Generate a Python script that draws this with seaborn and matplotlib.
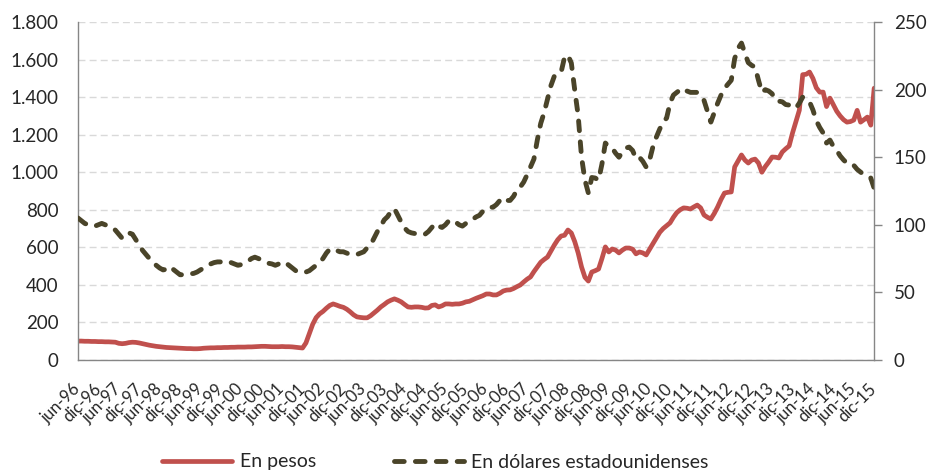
import numpy as np
import pandas as pd
import matplotlib
matplotlib.use('Agg')
import matplotlib.pyplot as plt
import matplotlib.ticker as mticker
import seaborn as sns

# datos mensuales, jun-96 a dic-15
en_pesos = [
    # 1996 jun-dic
    100, 100, 99, 99, 98, 98, 97,
    # 1997
    97, 96, 96, 95, 94, 88, 86, 88, 92, 94, 93, 90,
    # 1998
    86, 82, 78, 75, 72, 70, 68, 66, 65, 64, 63, 62,
    # 1999
    61, 60, 60, 59, 59, 60, 62, 63, 64, 64, 65, 65,
    # 2000
    66, 66, 67, 67, 68, 68, 68, 69, 69, 70, 71, 72,
    # 2001
    72, 71, 70, 70, 70, 71, 70, 70, 69, 67, 65, 63,
    # 2002
    90, 140, 190, 225, 245, 258, 275, 290, 298, 292, 285, 280,
    # 2003
    270, 256, 240, 229, 226, 224, 224, 235, 250, 265, 282, 295,
    # 2004
    309, 318, 325, 318, 309, 295, 282, 280, 282, 282, 280, 276,
    # 2005
    277, 290, 293, 282, 288, 298, 298, 296, 298, 298, 302, 309,
    # 2006
    312, 320, 328, 335, 342, 351, 351, 346, 346, 355, 367, 372,
    # 2007
    373, 380, 390, 399, 415, 430, 442, 470, 495, 520, 535, 548,
    # 2008
    580, 612, 640, 660, 664, 692, 676, 630, 570, 495, 440, 420,
    # 2009
    468, 475, 484, 540, 602, 575, 591, 585, 570, 585, 596, 596,
    # 2010
    590, 565, 575, 570, 559, 590, 620, 650, 680, 700, 715, 730,
    # 2011
    760, 785, 800, 810, 808, 804, 815, 825, 810, 772, 760, 751,
    # 2012
    780, 815, 855, 889, 893, 895, 1028, 1060, 1092, 1065, 1049, 1065,
    # 2013
    1070, 1049, 1000, 1030, 1054, 1081, 1080, 1076, 1108, 1125, 1140, 1209,
    # 2014
    1270, 1330, 1520, 1522, 1534, 1500, 1450, 1427, 1427, 1350, 1395, 1360,
    # 2015
    1325, 1300, 1280, 1267, 1270, 1278, 1330, 1267, 1280, 1294, 1251, 1448,
]

en_dolares = [
    # 1996 jun-dic
    105, 103, 101, 100, 99, 99, 100,
    # 1997
    101, 100, 99, 98, 96, 93, 90, 91, 94, 93, 89, 85,
    # 1998
    81, 78, 75, 73, 70, 68, 66.6, 67, 69, 67, 65, 63,
    # 1999
    63, 63, 63.6, 64, 65, 66.6, 68, 69.5, 71, 72, 72.5, 72.5,
    # 2000
    73, 73, 72, 71, 70, 70.5, 71.7, 73, 75, 76, 75, 74,
    # 2001
    72.5, 71.5, 71, 70, 71, 72.5, 72, 70, 68, 66, 65, 64.5,
    # 2002
    65, 66, 68, 70, 72, 75, 79, 82, 82, 81, 80, 80,
    # 2003
    79, 78, 78, 78, 79, 80, 83, 85, 90, 95, 99, 103.6,
    # 2004
    106, 110, 112, 107, 102, 97.6, 95, 94, 93.5, 93, 92.5, 93,
    # 2005
    95, 98, 101, 99, 98, 100, 103, 103.6, 102, 100, 99, 101,
    # 2006
    103, 104, 105.8, 107, 110, 112, 113, 113, 115, 118, 120, 118,
    # 2007
    118, 121, 125.7, 128, 131.6, 137, 142.7, 148.6, 162.7, 175, 183, 193,
    # 2008
    203, 210, 211, 213, 224, 225.6, 219.7, 199.7, 181, 150, 133, 123.5,
    # 2009
    135, 134.6, 133, 145, 160.5, 158, 156.8, 153, 150, 154, 156.8, 157.5,
    # 2010
    155, 149, 150, 147, 142.7, 148, 158, 165, 171, 176, 179, 190,
    # 2011
    196, 198, 200, 201, 199, 198, 198, 198, 195, 192, 184, 176,
    # 2012
    183, 190, 196, 201, 204, 207, 223, 230.6, 234.5, 227, 220, 218,
    # 2013
    216.7, 207, 198, 200, 199, 197, 192, 191.5, 191, 189, 188.6, 187,
    # 2014
    186.4, 190, 194.5, 192, 191, 185, 177, 172, 168, 160.5, 162.7, 158,
    # 2015
    155, 151, 148, 145.6, 145.6, 144, 141, 139, 137, 135.5, 134.6, 127,
]

meses_es = ['ene', 'feb', 'mar', 'abr', 'may', 'jun',
            'jul', 'ago', 'sep', 'oct', 'nov', 'dic']

fechas = pd.date_range('1996-06-01', periods=len(en_pesos), freq='MS')
df = pd.DataFrame({
    'mes': np.arange(len(fechas)),
    'En pesos': en_pesos,
    'En dólares estadounidenses': en_dolares,
})
etiquetas = [f"{meses_es[f.month - 1]}-{f.strftime('%y')}" for f in fechas]

rojo = '#C0504D'
oliva = '#4A4429'
gris = '#868686'

sns.set_style('white')
plt.rcParams['font.family'] = ['Lato', 'DejaVu Sans']

fig, ax = plt.subplots(figsize=(9.28, 4.71), dpi=100)
fig.subplots_adjust(left=0.084, right=0.942, top=0.953, bottom=0.236)
ax2 = ax.twinx()

sns.lineplot(data=df, x='mes', y='En pesos', ax=ax, color=rojo,
             linewidth=3.4, label='En pesos', legend=False)
sns.lineplot(data=df, x='mes', y='En dólares estadounidenses', ax=ax2,
             color=oliva, linewidth=3.5, linestyle=(0, (2.0, 2.3)),
             label='En dólares estadounidenses', legend=False)
for ln in ax2.get_lines():
    ln.set_dash_capstyle('round')
for ln in ax.get_lines():
    ln.set_solid_capstyle('round')

ax.set_xlim(0, len(fechas) - 1)
ax.set_ylim(0, 1800)
ax2.set_ylim(0, 250)
ax.set_yticks(np.arange(0, 1801, 200))
ax2.set_yticks(np.arange(0, 251, 50))
ax.yaxis.set_major_formatter(
    mticker.FuncFormatter(lambda v, p: f"{int(v):,}".replace(',', '.')))

ax.set_xticks(df['mes'][::6])
ax.set_xticklabels(etiquetas[::6], rotation=45, ha='right', va='center',
                   rotation_mode='anchor', fontsize=12)
ax.tick_params(axis='x', length=0, pad=19)
ax.tick_params(axis='y', length=0, pad=14, labelsize=13.5)
ax2.tick_params(axis='y', length=6, width=1, color=gris, pad=8,
                labelsize=13.5, direction='out')

ax.yaxis.grid(True, color='#D9D9D9', linewidth=1, linestyle=(0, (5, 3)))
ax.set_axisbelow(True)
ax.set_xlabel('')
ax.set_ylabel('')
ax2.set_ylabel('')

for a in (ax, ax2):
    a.spines['top'].set_visible(False)
    for s in ('left', 'right', 'bottom'):
        a.spines[s].set_color(gris)
        a.spines[s].set_linewidth(1)
ax.spines['right'].set_visible(False)
ax2.spines['left'].set_visible(False)
ax2.spines['bottom'].set_visible(False)

handles = ax.get_lines()[:1] + ax2.get_lines()[:1]
fig.legend(handles, [h.get_label() for h in handles], loc='center',
           bbox_to_anchor=(0.469, 1 - 462 / 471), ncol=2, frameon=False,
           fontsize=14, handlelength=3.6, handletextpad=0.4,
           columnspacing=4.0)

fig.savefig('out.png', dpi=100)
